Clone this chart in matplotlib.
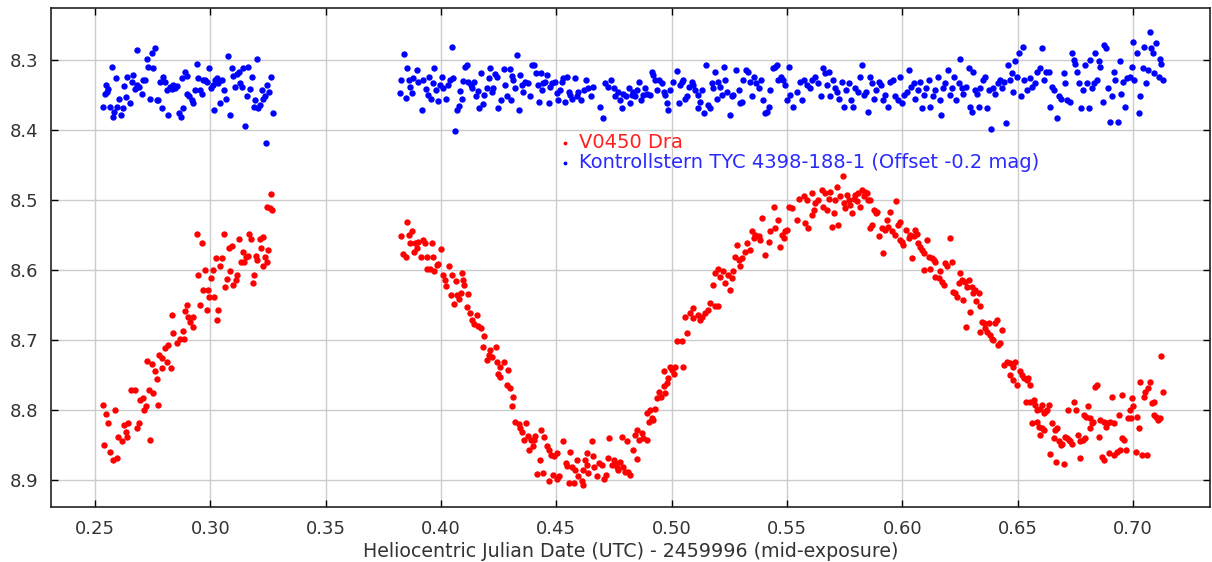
"""
Light curve of V0450 Dra with comparison star TYC 4398-188-1 (offset -0.2 mag).
Writes out.png.
"""

import numpy as np
import matplotlib
matplotlib.use("Agg")
import matplotlib.pyplot as plt

# ---------------------------------------------------------------------------
# Photometry (HJD - 2459996, magnitude)
# ---------------------------------------------------------------------------

V0450_NIGHT_A = [
    (0.2536, 8.793), (0.2548, 8.806), (0.2558, 8.818), (0.2540, 8.850), (0.2565, 8.860),
    (0.2577, 8.871), (0.2594, 8.868), (0.2587, 8.800), (0.2601, 8.839), (0.2616, 8.845),
    (0.2626, 8.822), (0.2634, 8.832), (0.2644, 8.818), (0.2637, 8.838), (0.2656, 8.772),
    (0.2673, 8.772), (0.2681, 8.826), (0.2692, 8.818), (0.2695, 8.786), (0.2706, 8.783),
    (0.2712, 8.800), (0.2721, 8.795), (0.2735, 8.772), (0.2753, 8.776), (0.2738, 8.843),
    (0.2774, 8.793), (0.2767, 8.756), (0.2760, 8.745), (0.2789, 8.740), (0.2828, 8.740),
    (0.2724, 8.730), (0.2746, 8.734), (0.2779, 8.721), (0.2789, 8.726), (0.2804, 8.712),
    (0.2811, 8.731), (0.2818, 8.707), (0.2840, 8.690), (0.2854, 8.704), (0.2868, 8.699),
    (0.2880, 8.687), (0.2886, 8.699), (0.2835, 8.664), (0.2891, 8.659), (0.2898, 8.650),
    (0.2905, 8.667), (0.2912, 8.675), (0.2924, 8.667), (0.2926, 8.681), (0.2941, 8.549),
    (0.2948, 8.607), (0.2955, 8.650), (0.2962, 8.561), (0.2969, 8.628), (0.2977, 8.600),
    (0.2984, 8.657), (0.2991, 8.628), (0.2996, 8.639), (0.3003, 8.611), (0.3010, 8.600),
    (0.3016, 8.639), (0.3025, 8.583), (0.3030, 8.671), (0.3034, 8.657), (0.3042, 8.595),
    (0.3049, 8.583), (0.3059, 8.549), (0.3065, 8.625), (0.3074, 8.613), (0.3080, 8.569),
    (0.3085, 8.601), (0.3093, 8.566), (0.3100, 8.621), (0.3109, 8.614), (0.3114, 8.607),
    (0.3122, 8.556), (0.3131, 8.588), (0.3140, 8.574), (0.3146, 8.588), (0.3155, 8.582),
    (0.3164, 8.580), (0.3169, 8.549), (0.3176, 8.556), (0.3184, 8.618), (0.3191, 8.607),
    (0.3198, 8.580), (0.3204, 8.586), (0.3213, 8.556), (0.3220, 8.568), (0.3230, 8.553),
    (0.3227, 8.595), (0.3237, 8.581), (0.3244, 8.588), (0.3251, 8.572), (0.3244, 8.510),
    (0.3259, 8.512), (0.3266, 8.514), (0.3261, 8.491),
]

V0450_NIGHT_B = [
    (0.3854, 8.531), (0.3827, 8.551), (0.3873, 8.545), (0.3863, 8.550), (0.3866, 8.561),
    (0.3888, 8.562), (0.3902, 8.560), (0.3924, 8.557), (0.3931, 8.562), (0.3960, 8.561),
    (0.3895, 8.568), (0.3885, 8.575), (0.3833, 8.577), (0.3847, 8.581), (0.3914, 8.581),
    (0.3938, 8.581), (0.3967, 8.581), (0.4000, 8.570), (0.3989, 8.591), (0.3981, 8.593),
    (0.3938, 8.598), (0.3953, 8.598), (0.3971, 8.601), (0.4035, 8.595), (0.4010, 8.607),
    (0.4049, 8.607), (0.4090, 8.604), (0.4018, 8.614), (0.4064, 8.616), (0.4097, 8.614),
    (0.4101, 8.621), (0.4021, 8.623), (0.4044, 8.636), (0.4068, 8.636), (0.4087, 8.633),
    (0.4119, 8.635), (0.4076, 8.642), (0.4057, 8.649), (0.4112, 8.653), (0.4126, 8.662),
    (0.4155, 8.664), (0.4136, 8.672), (0.4145, 8.677), (0.4162, 8.680), (0.4174, 8.683),
    (0.4188, 8.694), (0.4180, 8.710), (0.4213, 8.715), (0.4238, 8.710), (0.4206, 8.721),
    (0.4220, 8.724), (0.4198, 8.729), (0.4242, 8.731), (0.4256, 8.738), (0.4271, 8.731),
    (0.4249, 8.748), (0.4256, 8.753), (0.4292, 8.743), (0.4288, 8.764), (0.4300, 8.769),
    (0.4314, 8.781), (0.4307, 8.795), (0.4321, 8.817), (0.4336, 8.820), (0.4343, 8.826),
    (0.4369, 8.819), (0.4350, 8.831), (0.4360, 8.843), (0.4379, 8.837), (0.4389, 8.843),
    (0.4401, 8.843), (0.4398, 8.852), (0.4383, 8.857), (0.4408, 8.837), (0.4433, 8.828),
    (0.4427, 8.871), (0.4415, 8.891), (0.4444, 8.890), (0.4447, 8.839), (0.4459, 8.851),
    (0.4466, 8.857), (0.4477, 8.864), (0.4470, 8.902), (0.4490, 8.866), (0.4502, 8.861),
    (0.4487, 8.893), (0.4502, 8.898), (0.4513, 8.895), (0.4531, 8.845), (0.4542, 8.876),
    (0.4545, 8.880), (0.4553, 8.905), (0.4560, 8.860), (0.4568, 8.881), (0.4575, 8.905),
    (0.4582, 8.886), (0.4589, 8.871), (0.4596, 8.895), (0.4611, 8.902), (0.4615, 8.886),
    (0.4625, 8.871), (0.4632, 8.879), (0.4639, 8.890), (0.4615, 8.907), (0.4632, 8.862),
    (0.4654, 8.845), (0.4657, 8.866), (0.4664, 8.881), (0.4675, 8.894), (0.4687, 8.876),
    (0.4697, 8.879), (0.4707, 8.898), (0.4716, 8.893), (0.4726, 8.869), (0.4730, 8.840),
    (0.4740, 8.879), (0.4748, 8.871), (0.4755, 8.876), (0.4762, 8.881), (0.4769, 8.886),
    (0.4777, 8.875), (0.4784, 8.838), (0.4791, 8.881), (0.4798, 8.888), (0.4808, 8.845),
    (0.4812, 8.888), (0.4820, 8.893), (0.4834, 8.857), (0.4851, 8.870), (0.4849, 8.829),
    (0.4842, 8.836), (0.4860, 8.843), (0.4870, 8.833), (0.4877, 8.840), (0.4892, 8.843),
    (0.4900, 8.817), (0.4892, 8.805), (0.4904, 8.800), (0.4914, 8.812), (0.4921, 8.815),
    (0.4929, 8.798), (0.4936, 8.783), (0.4943, 8.774), (0.4953, 8.781), (0.4965, 8.766),
    (0.4972, 8.776), (0.4979, 8.762), (0.4986, 8.755), (0.4994, 8.738), (0.5001, 8.743),
    (0.5008, 8.748), (0.5015, 8.738), (0.5051, 8.739), (0.4965, 8.745), (0.5022, 8.701),
    (0.5044, 8.701), (0.5065, 8.690), (0.5058, 8.667), (0.5080, 8.662), (0.5094, 8.655),
    (0.5091, 8.669), (0.5116, 8.664), (0.5124, 8.671), (0.5131, 8.667), (0.5145, 8.662),
    (0.5159, 8.657), (0.5167, 8.647), (0.5189, 8.652), (0.5203, 8.651), (0.5181, 8.621),
    (0.5189, 8.605), (0.5203, 8.598), (0.5210, 8.610), (0.5222, 8.602), (0.5232, 8.619),
    (0.5246, 8.607), (0.5254, 8.629), (0.5261, 8.612), (0.5268, 8.602), (0.5275, 8.581),
    (0.5290, 8.586), (0.5297, 8.595), (0.5282, 8.564), (0.5304, 8.583), (0.5319, 8.574),
    (0.5326, 8.562), (0.5340, 8.571), (0.5348, 8.545), (0.5355, 8.555), (0.5362, 8.550),
    (0.5377, 8.552), (0.5391, 8.526), (0.5384, 8.557), (0.5406, 8.579), (0.5420, 8.560),
    (0.5427, 8.545), (0.5442, 8.510), (0.5449, 8.540), (0.5463, 8.529), (0.5470, 8.567),
    (0.5478, 8.550), (0.5485, 8.555), (0.5492, 8.545), (0.5499, 8.543), (0.5507, 8.510),
    (0.5521, 8.512), (0.5543, 8.529), (0.5550, 8.498), (0.5572, 8.495), (0.5586, 8.500),
    (0.5579, 8.533), (0.5593, 8.540), (0.5608, 8.490), (0.5615, 8.514), (0.5622, 8.505),
    (0.5608, 8.521), (0.5636, 8.500), (0.5651, 8.486), (0.5658, 8.510), (0.5665, 8.490),
    (0.5673, 8.514), (0.5680, 8.498), (0.5687, 8.488), (0.5695, 8.538), (0.5702, 8.519),
    (0.5709, 8.500), (0.5716, 8.481), (0.5719, 8.536), (0.5731, 8.495), (0.5742, 8.466),
    (0.5745, 8.505), (0.5752, 8.512), (0.5760, 8.493), (0.5767, 8.500), (0.5774, 8.507),
    (0.5781, 8.519), (0.5789, 8.498), (0.5796, 8.493), (0.5803, 8.502), (0.5810, 8.490),
    (0.5817, 8.510), (0.5825, 8.486), (0.5832, 8.495), (0.5839, 8.488), (0.5846, 8.490),
    (0.5853, 8.500), (0.5860, 8.500), (0.5860, 8.540), (0.5868, 8.536), (0.5878, 8.514),
    (0.5887, 8.519), (0.5892, 8.517), (0.5901, 8.551), (0.5911, 8.540), (0.5918, 8.576),
    (0.5925, 8.543), (0.5933, 8.529), (0.5940, 8.538), (0.5947, 8.517), (0.5955, 8.545),
    (0.5969, 8.550), (0.5974, 8.502), (0.5980, 8.536), (0.5991, 8.531), (0.5991, 8.557),
    (0.5998, 8.560), (0.6005, 8.564), (0.6017, 8.543), (0.6027, 8.555), (0.6035, 8.550),
    (0.6041, 8.583), (0.6049, 8.552), (0.6056, 8.543), (0.6063, 8.548), (0.6070, 8.562),
    (0.6077, 8.567), (0.6085, 8.571), (0.6092, 8.576), (0.6095, 8.600), (0.6107, 8.557),
    (0.6114, 8.581), (0.6121, 8.598), (0.6128, 8.583), (0.6136, 8.586), (0.6143, 8.588),
    (0.6143, 8.610), (0.6157, 8.612), (0.6164, 8.602), (0.6172, 8.617), (0.6179, 8.621),
    (0.6186, 8.590), (0.6193, 8.595), (0.6208, 8.555), (0.6215, 8.588), (0.6219, 8.631),
    (0.6229, 8.633), (0.6237, 8.638), (0.6244, 8.619), (0.6251, 8.605), (0.6258, 8.614),
    (0.6265, 8.643), (0.6273, 8.617), (0.6280, 8.624), (0.6287, 8.614), (0.6294, 8.660),
    (0.6302, 8.624), (0.6306, 8.633), (0.6316, 8.629), (0.6321, 8.645), (0.6331, 8.633),
    (0.6338, 8.652), (0.6277, 8.681), (0.6345, 8.674), (0.6352, 8.676), (0.6335, 8.688),
    (0.6359, 8.683), (0.6367, 8.688), (0.6374, 8.676), (0.6381, 8.693), (0.6388, 8.698),
    (0.6395, 8.700), (0.6403, 8.676), (0.6410, 8.671), (0.6417, 8.707), (0.6424, 8.705),
    (0.6432, 8.686), (0.6439, 8.736), (0.6453, 8.731), (0.6468, 8.733), (0.6482, 8.738),
    (0.6490, 8.731), (0.6468, 8.750), (0.6482, 8.757), (0.6497, 8.764), (0.6511, 8.745),
    (0.6519, 8.750), (0.6526, 8.755), (0.6540, 8.757), (0.6555, 8.764), (0.6547, 8.755),
    (0.6537, 8.788), (0.6555, 8.788), (0.6569, 8.786), (0.6576, 8.793), (0.6584, 8.800),
    (0.6598, 8.798), (0.6605, 8.793), (0.6613, 8.805), (0.6634, 8.793), (0.6627, 8.800),
    (0.6624, 8.802), (0.6562, 8.819), (0.6584, 8.817), (0.6591, 8.824), (0.6605, 8.826),
    (0.6613, 8.829), (0.6598, 8.836), (0.6649, 8.818), (0.6663, 8.829), (0.6671, 8.826),
    (0.6656, 8.840), (0.6678, 8.845), (0.6686, 8.850), (0.6693, 8.848), (0.6642, 8.863),
    (0.6668, 8.874), (0.6700, 8.877), (0.6707, 8.838), (0.6715, 8.840), (0.6722, 8.843),
    (0.6729, 8.845), (0.6736, 8.848), (0.6717, 8.800), (0.6746, 8.788), (0.6755, 8.800),
    (0.6761, 8.836), (0.6769, 8.869), (0.6771, 8.845), (0.6783, 8.843), (0.6793, 8.840),
    (0.6786, 8.807), (0.6797, 8.810), (0.6803, 8.795), (0.6815, 8.812), (0.6822, 8.819),
    (0.6827, 8.817), (0.6815, 8.826), (0.6837, 8.767), (0.6844, 8.764), (0.6852, 8.838),
    (0.6859, 8.814), (0.6866, 8.867), (0.6874, 8.871), (0.6874, 8.817), (0.6881, 8.824),
    (0.6888, 8.819), (0.6895, 8.862), (0.6902, 8.817), (0.6909, 8.781), (0.6916, 8.819),
    (0.6919, 8.864), (0.6931, 8.860), (0.6938, 8.807), (0.6942, 8.857), (0.6953, 8.779),
    (0.6953, 8.840), (0.6963, 8.843), (0.6971, 8.857), (0.6977, 8.812), (0.6986, 8.800),
    (0.6992, 8.812), (0.6996, 8.783), (0.7001, 8.795), (0.7011, 8.860), (0.7018, 8.810),
    (0.7025, 8.826), (0.7032, 8.760), (0.7039, 8.864), (0.7046, 8.781), (0.7054, 8.774),
    (0.7061, 8.864), (0.7064, 8.769), (0.7072, 8.760), (0.7083, 8.790), (0.7093, 8.788),
    (0.7090, 8.807), (0.7102, 8.810), (0.7108, 8.814), (0.7116, 8.812), (0.7131, 8.774),
    (0.7120, 8.723),
]

CHECK_NIGHT_A = [
    (0.2536, 8.367), (0.2548, 8.336), (0.2551, 8.345), (0.2543, 8.348), (0.2558, 8.342),
    (0.2565, 8.367), (0.2572, 8.310), (0.2577, 8.381), (0.2582, 8.374), (0.2591, 8.326),
    (0.2597, 8.367), (0.2605, 8.355), (0.2611, 8.379), (0.2620, 8.369), (0.2626, 8.337),
    (0.2634, 8.353), (0.2640, 8.324), (0.2652, 8.362), (0.2659, 8.331), (0.2666, 8.321),
    (0.2673, 8.342), (0.2681, 8.285), (0.2683, 8.336), (0.2692, 8.339), (0.2702, 8.349),
    (0.2709, 8.329), (0.2717, 8.328), (0.2724, 8.299), (0.2731, 8.310), (0.2739, 8.355),
    (0.2746, 8.290), (0.2753, 8.312), (0.2760, 8.283), (0.2767, 8.357), (0.2774, 8.357),
    (0.2782, 8.331), (0.2789, 8.369), (0.2796, 8.324), (0.2804, 8.332), (0.2811, 8.343),
    (0.2818, 8.379), (0.2825, 8.338), (0.2832, 8.342), (0.2840, 8.336), (0.2847, 8.340),
    (0.2854, 8.337), (0.2866, 8.376), (0.2872, 8.381), (0.2876, 8.326), (0.2883, 8.369),
    (0.2890, 8.317), (0.2898, 8.323), (0.2900, 8.349), (0.2909, 8.352), (0.2919, 8.357),
    (0.2926, 8.362), (0.2934, 8.343), (0.2941, 8.305), (0.2948, 8.325), (0.2955, 8.343),
    (0.2963, 8.349), (0.2970, 8.328), (0.2977, 8.329), (0.2984, 8.331), (0.2996, 8.312),
    (0.3002, 8.340), (0.3010, 8.336), (0.3016, 8.371), (0.3020, 8.329), (0.3028, 8.325),
    (0.3035, 8.333), (0.3042, 8.362), (0.3049, 8.329), (0.3059, 8.343), (0.3068, 8.355),
    (0.3078, 8.294), (0.3085, 8.379), (0.3093, 8.312), (0.3100, 8.323), (0.3107, 8.338),
    (0.3114, 8.320), (0.3122, 8.317), (0.3129, 8.333), (0.3136, 8.339), (0.3143, 8.312),
    (0.3151, 8.394), (0.3158, 8.352), (0.3165, 8.310), (0.3172, 8.342), (0.3180, 8.324),
    (0.3187, 8.367), (0.3194, 8.357), (0.3201, 8.299), (0.3208, 8.369), (0.3216, 8.364),
    (0.3223, 8.343), (0.3230, 8.356), (0.3237, 8.352), (0.3240, 8.418), (0.3247, 8.336),
    (0.3256, 8.345), (0.3262, 8.324), (0.3271, 8.376),
]

CHECK_NIGHT_B = [
    (0.3841, 8.291), (0.3827, 8.329), (0.3823, 8.347), (0.3847, 8.354), (0.3854, 8.312),
    (0.3862, 8.329), (0.3866, 8.338), (0.3873, 8.347), (0.3880, 8.326), (0.3895, 8.314),
    (0.3902, 8.331), (0.3916, 8.371), (0.3924, 8.328), (0.3934, 8.342), (0.3943, 8.350),
    (0.3948, 8.324), (0.3957, 8.355), (0.3967, 8.333), (0.3971, 8.312), (0.3977, 8.343),
    (0.3989, 8.358), (0.3996, 8.336), (0.4003, 8.324), (0.4010, 8.340), (0.4021, 8.356),
    (0.4029, 8.336), (0.4039, 8.329), (0.4049, 8.282), (0.4054, 8.326), (0.4061, 8.401),
    (0.4069, 8.371), (0.4076, 8.366), (0.4083, 8.344), (0.4090, 8.356), (0.4097, 8.330),
    (0.4105, 8.310), (0.4112, 8.307), (0.4119, 8.332), (0.4130, 8.336), (0.4136, 8.340),
    (0.4145, 8.331), (0.4151, 8.352), (0.4160, 8.344), (0.4165, 8.369), (0.4174, 8.319),
    (0.4180, 8.363), (0.4188, 8.350), (0.4198, 8.340), (0.4206, 8.326), (0.4213, 8.312),
    (0.4220, 8.345), (0.4227, 8.340), (0.4235, 8.320), (0.4242, 8.324), (0.4249, 8.368),
    (0.4261, 8.357), (0.4271, 8.313), (0.4278, 8.336), (0.4286, 8.352), (0.4300, 8.313),
    (0.4307, 8.323), (0.4304, 8.357), (0.4314, 8.328), (0.4321, 8.340), (0.4328, 8.293),
    (0.4336, 8.371), (0.4343, 8.321), (0.4350, 8.336), (0.4357, 8.345), (0.4365, 8.331),
    (0.4376, 8.333), (0.4386, 8.352), (0.4396, 8.307), (0.4405, 8.307), (0.4411, 8.319),
    (0.4419, 8.336), (0.4425, 8.360), (0.4433, 8.319), (0.4437, 8.343), (0.4444, 8.333),
    (0.4451, 8.331), (0.4458, 8.321), (0.4466, 8.362), (0.4473, 8.338), (0.4480, 8.333),
    (0.4492, 8.331), (0.4502, 8.347), (0.4509, 8.357), (0.4517, 8.343), (0.4524, 8.331),
    (0.4531, 8.326), (0.4538, 8.360), (0.4545, 8.324), (0.4553, 8.345), (0.4560, 8.350),
    (0.4568, 8.355), (0.4579, 8.326), (0.4589, 8.352), (0.4596, 8.345), (0.4608, 8.357),
    (0.4618, 8.343), (0.4628, 8.329), (0.4639, 8.340), (0.4651, 8.352), (0.4661, 8.338),
    (0.4690, 8.367), (0.4704, 8.383), (0.4712, 8.333), (0.4726, 8.338), (0.4736, 8.329),
    (0.4748, 8.340), (0.4755, 8.352), (0.4769, 8.345), (0.4777, 8.357), (0.4784, 8.369),
    (0.4791, 8.348), (0.4803, 8.352), (0.4813, 8.340), (0.4820, 8.362), (0.4827, 8.350),
    (0.4834, 8.345), (0.4842, 8.352), (0.4849, 8.343), (0.4860, 8.331), (0.4866, 8.357),
    (0.4875, 8.350), (0.4885, 8.340), (0.4892, 8.348), (0.4904, 8.350), (0.4914, 8.317),
    (0.4921, 8.321), (0.4929, 8.329), (0.4936, 8.343), (0.4947, 8.328), (0.4957, 8.333),
    (0.4965, 8.345), (0.4972, 8.350), (0.4979, 8.362), (0.4986, 8.371), (0.4994, 8.343),
    (0.5005, 8.331), (0.5022, 8.315), (0.5030, 8.362), (0.5036, 8.336), (0.5044, 8.331),
    (0.5051, 8.329), (0.5058, 8.356), (0.5065, 8.352), (0.5077, 8.339), (0.5087, 8.331),
    (0.5094, 8.336), (0.5102, 8.343), (0.5112, 8.350), (0.5116, 8.369), (0.5124, 8.360),
    (0.5131, 8.343), (0.5141, 8.376), (0.5150, 8.307), (0.5159, 8.364), (0.5167, 8.369),
    (0.5174, 8.333), (0.5181, 8.340), (0.5189, 8.317), (0.5196, 8.355), (0.5203, 8.331),
    (0.5210, 8.338), (0.5217, 8.350), (0.5225, 8.310), (0.5232, 8.329), (0.5242, 8.345),
    (0.5254, 8.379), (0.5261, 8.352), (0.5268, 8.350), (0.5280, 8.314), (0.5290, 8.343),
    (0.5297, 8.362), (0.5304, 8.360), (0.5311, 8.329), (0.5323, 8.314), (0.5329, 8.317),
    (0.5338, 8.331), (0.5348, 8.352), (0.5355, 8.324), (0.5366, 8.333), (0.5377, 8.340),
    (0.5387, 8.329), (0.5398, 8.357), (0.5406, 8.376), (0.5413, 8.374), (0.5420, 8.367),
    (0.5427, 8.343), (0.5439, 8.312), (0.5449, 8.310), (0.5456, 8.307), (0.5463, 8.329),
    (0.5473, 8.324), (0.5482, 8.329), (0.5492, 8.336), (0.5499, 8.357), (0.5507, 8.310),
    (0.5514, 8.350), (0.5528, 8.367), (0.5543, 8.345), (0.5555, 8.331), (0.5565, 8.357),
    (0.5572, 8.329), (0.5586, 8.336), (0.5598, 8.340), (0.5608, 8.329), (0.5622, 8.324),
    (0.5636, 8.333), (0.5647, 8.352), (0.5656, 8.312), (0.5665, 8.319), (0.5673, 8.336),
    (0.5680, 8.317), (0.5687, 8.352), (0.5698, 8.329), (0.5709, 8.340), (0.5716, 8.345),
    (0.5727, 8.355), (0.5738, 8.331), (0.5745, 8.367), (0.5757, 8.343), (0.5767, 8.333),
    (0.5777, 8.357), (0.5786, 8.367), (0.5796, 8.340), (0.5806, 8.345), (0.5815, 8.324),
    (0.5825, 8.307), (0.5832, 8.350), (0.5844, 8.345), (0.5853, 8.374), (0.5860, 8.324),
    (0.5868, 8.333), (0.5878, 8.355), (0.5887, 8.343), (0.5897, 8.331), (0.5907, 8.336),
    (0.5916, 8.357), (0.5926, 8.350), (0.5936, 8.367), (0.5947, 8.331), (0.5959, 8.329),
    (0.5969, 8.352), (0.5980, 8.357), (0.5991, 8.324), (0.5998, 8.362), (0.6008, 8.350),
    (0.6020, 8.345), (0.6027, 8.314), (0.6037, 8.338), (0.6049, 8.333), (0.6056, 8.355),
    (0.6066, 8.343), (0.6075, 8.331), (0.6085, 8.369), (0.6095, 8.350), (0.6103, 8.340),
    (0.6114, 8.329), (0.6121, 8.367), (0.6133, 8.352), (0.6143, 8.343), (0.6153, 8.324),
    (0.6162, 8.357), (0.6168, 8.379), (0.6177, 8.340), (0.6186, 8.333), (0.6196, 8.314),
    (0.6205, 8.350), (0.6215, 8.340), (0.6225, 8.324), (0.6234, 8.357), (0.6244, 8.333),
    (0.6251, 8.298), (0.6258, 8.340), (0.6265, 8.348), (0.6277, 8.338), (0.6287, 8.312),
    (0.6294, 8.367), (0.6302, 8.374), (0.6306, 8.317), (0.6316, 8.343), (0.6323, 8.348),
    (0.6331, 8.367), (0.6338, 8.340), (0.6349, 8.329), (0.6359, 8.324), (0.6369, 8.369),
    (0.6374, 8.343), (0.6384, 8.398), (0.6393, 8.340), (0.6403, 8.348), (0.6413, 8.333),
    (0.6422, 8.329), (0.6432, 8.340), (0.6442, 8.331), (0.6451, 8.390), (0.6457, 8.307),
    (0.6468, 8.329), (0.6475, 8.319), (0.6482, 8.345), (0.6490, 8.302), (0.6497, 8.324),
    (0.6504, 8.290), (0.6515, 8.352), (0.6524, 8.281), (0.6529, 8.329), (0.6540, 8.343),
    (0.6552, 8.326), (0.6562, 8.338), (0.6576, 8.333), (0.6586, 8.317), (0.6595, 8.312),
    (0.6605, 8.283), (0.6615, 8.329), (0.6624, 8.317), (0.6634, 8.317), (0.6641, 8.367),
    (0.6649, 8.338), (0.6659, 8.343), (0.6671, 8.383), (0.6678, 8.352), (0.6689, 8.355),
    (0.6700, 8.319), (0.6707, 8.333), (0.6715, 8.357), (0.6726, 8.360), (0.6736, 8.290),
    (0.6743, 8.300), (0.6750, 8.305), (0.6758, 8.317), (0.6765, 8.333), (0.6776, 8.369),
    (0.6784, 8.343), (0.6790, 8.307), (0.6799, 8.333), (0.6808, 8.369), (0.6815, 8.300),
    (0.6822, 8.340), (0.6829, 8.333), (0.6837, 8.290), (0.6844, 8.329), (0.6852, 8.302),
    (0.6859, 8.310), (0.6871, 8.360), (0.6876, 8.279), (0.6885, 8.283), (0.6891, 8.340),
    (0.6900, 8.388), (0.6909, 8.352), (0.6916, 8.317), (0.6923, 8.329), (0.6934, 8.388),
    (0.6942, 8.302), (0.6948, 8.348), (0.6956, 8.331), (0.6966, 8.367), (0.6974, 8.326),
    (0.6986, 8.324), (0.6996, 8.310), (0.7001, 8.274), (0.7006, 8.329), (0.7018, 8.290),
    (0.7025, 8.376), (0.7032, 8.352), (0.7044, 8.312), (0.7050, 8.281), (0.7058, 8.333),
    (0.7064, 8.314), (0.7072, 8.260), (0.7078, 8.283), (0.7087, 8.290), (0.7093, 8.319),
    (0.7102, 8.276), (0.7112, 8.324), (0.7116, 8.298), (0.7122, 8.305), (0.7131, 8.329),
]

LABEL_VAR   = "V0450 Dra"
LABEL_CHECK = "Kontrollstern TYC 4398-188-1 (Offset -0.2 mag)"
XLABEL      = "Heliocentric Julian Date (UTC) - 2459996 (mid-exposure)"
X_TICKS     = [0.25, 0.30, 0.35, 0.40, 0.45, 0.50, 0.55, 0.60, 0.65, 0.70]
Y_TICKS     = [8.3, 8.4, 8.5, 8.6, 8.7, 8.8, 8.9]


def main() -> None:
    var   = np.array(V0450_NIGHT_A + V0450_NIGHT_B)
    check = np.array(CHECK_NIGHT_A + CHECK_NIGHT_B)

    fig = plt.figure(figsize=(12.12, 5.62), dpi=100)
    ax = fig.add_axes([51 / 1212, 55 / 562, 1159 / 1212, 499 / 562])

    ax.scatter(var[:, 0], var[:, 1], s=21, c="#ff0000", linewidths=0,
               label=LABEL_VAR, zorder=3)
    ax.scatter(check[:, 0], check[:, 1], s=21, c="#0000ff", linewidths=0,
               label=LABEL_CHECK, zorder=3)

    ax.set_xlim(0.2309, 0.7334)
    ax.set_ylim(8.9386, 8.2257)   # magnitudes: brighter up
    ax.set_xticks(X_TICKS)
    ax.set_xticklabels([f"{t:.2f}" for t in X_TICKS])
    ax.set_yticks(Y_TICKS)
    ax.set_yticklabels([f"{t:.1f}" for t in Y_TICKS])

    ax.grid(True, color="#cccccc", linewidth=1.0)
    ax.set_axisbelow(True)
    ax.tick_params(direction="in", top=True, right=True, length=5, width=1,
                   labelsize=13, labelcolor="#333333", pad=9)
    for sp in ax.spines.values():
        sp.set_color("#222222")
        sp.set_linewidth(1.2)

    ax.set_xlabel(XLABEL, fontsize=13.7, color="#333333", labelpad=3)

    leg = ax.legend(loc="upper left", bbox_to_anchor=(0.440, 0.750),
                    frameon=False, fontsize=14, markerscale=0.6,
                    handlelength=0.45, handletextpad=0.5, borderpad=0,
                    borderaxespad=0, labelspacing=0.05)
    for txt, col in zip(leg.get_texts(), ["#ff2020", "#2a2aff"]):
        txt.set_color(col)

    fig.savefig("out.png", dpi=100)
    plt.close(fig)


if __name__ == "__main__":
    main()
